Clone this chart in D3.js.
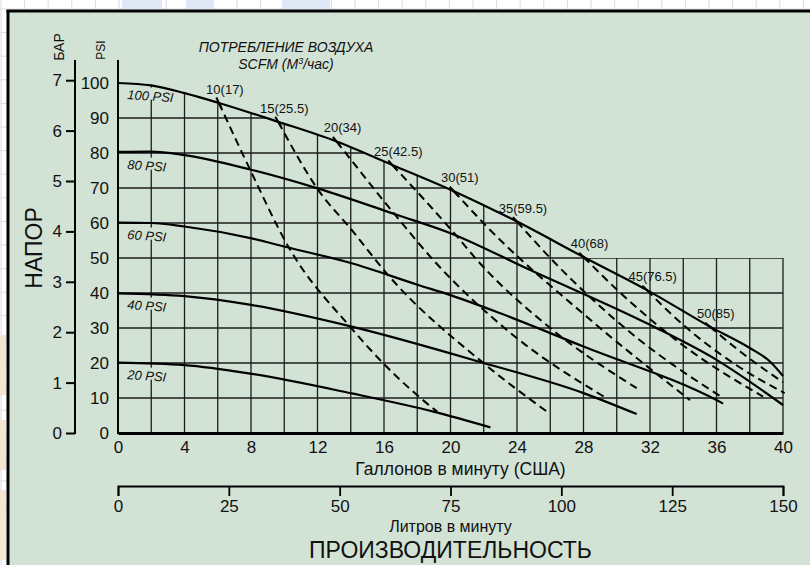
<!DOCTYPE html>
<html lang="ru">
<head>
<meta charset="UTF-8">
<title>Производительность насоса</title>
<script src="https://cdn.jsdelivr.net/npm/d3@7"></script>
<style type="text/css">
	body { margin: 0; background: #fff; }
	svg { display: block; font-family: "Liberation Sans", Arial, sans-serif; }
	.bg-grid line { stroke: #dcdcdc; stroke-width: 1px; }
	.grid line { stroke: #1c1c1c; stroke-width: 1.3px; }
	.psi-curve { fill: none; stroke: #000; stroke-width: 2.2px; }
	.air-curve { fill: none; stroke: #000; stroke-width: 2px; stroke-dasharray: 8 5; }
	.marker { stroke: #000; stroke-width: 2px; }
	.axis text { fill: #111; font-size: 17px; }
	.axis path, .axis line { stroke: #000; fill: none; }
	.air-label { font-size: 13px; fill: #111; }
	.psi-label { font-size: 13px; font-style: italic; fill: #111; }
	.title { font-size: 14px; font-style: italic; fill: #111; }
</style>
</head>
<body>
<script type="text/javascript">

// values
var gpmTicks = [0, 4, 8, 12, 16, 20, 24, 28, 32, 36, 40];
var lpmTicks = [0, 25, 50, 75, 100, 125, 150];
var psiTicks = [0, 10, 20, 30, 40, 50, 60, 70, 80, 90, 100];
var barTicks = [0, 1, 2, 3, 4, 5, 6, 7];
var psiPerBar = 14.4;

// pressure curves [gpm, psi]
var psi100 = [[0,100],[2,99.3],[4,97.1],[6.07,94.3],[9.64,88.9],[13.15,83.3],[16.5,76.6],[20.2,69.1],[24,60.4],[28,50.3],[31.8,40.9],[35.6,30.4],[38,24.3],[39.2,20.5],[40,16.3]];
var psi80 = [[0,80.3],[2,80.4],[4,79.4],[7.94,75.3],[12,69.9],[16.8,62.3],[20,57.1],[24.6,47],[32,30.9],[36,20.9],[40,8]];
var psi60 = [[0,60.1],[2,60],[4,59],[8.04,55.6],[10.05,53.2],[14.06,48.5],[18.06,42.3],[20,39.4],[23,34.2],[28,24.7],[36,9.4],[36.4,8.4]];
var psi40 = [[0,39.9],[4,39.1],[8,36.6],[14.06,30.4],[22,20],[28,11.4],[31.2,5.4]];
var psi20 = [[0,20.1],[4,19.4],[8.04,16.9],[14.06,11.3],[18.97,6.1],[22.4,1.6]];
var psiNames = ['100 PSI', '80 PSI', '60 PSI', '40 PSI', '20 PSI'];
var psiStart = [100, 80, 60, 40, 20];

// air consumption, SCFM (m3/h)
var airNames = ['10(17)', '15(25.5)', '20(34)', '25(42.5)', '30(51)', '35(59.5)', '40(68)', '45(76.5)', '50(85)'];
var air10 = [[6.07,94.3],[7.94,75.3],[10.3,52.8],[13.95,30.4],[15.96,19.9],[17.97,10.9],[19.2,6.1]];
var air15 = [[9.64,88.9],[12.05,69.4],[14.06,58],[16.16,45.6],[22,19.9],[25.8,6.1]];
var air20 = [[13.15,83.3],[16.76,61.8],[18.97,49.4],[23.5,29],[29.4,9.9]];
var air25 = [[16.5,76.6],[20.4,56.1],[21.6,49.4],[26,30],[31.2,12.8]];
var air30 = [[20.2,69.1],[22.2,58.9],[28,34],[34.4,9.4]];
var air35 = [[24,60.4],[26,50],[31,28],[36.4,10]];
var air40 = [[28,50.3],[30,41],[34,25],[38.8,10.4]];
var air45 = [[31.8,40.9],[33.5,33],[37,20],[40.1,11.4]];
var air50 = [[35.6,30.4],[37.5,23],[40,14.5]];

var W = 810, H = 565;
var panelFill = '#d2e3d6';

var x = d3.scaleLinear().domain([0, 40]).range([118, 783]);
var lpm = d3.scaleLinear().domain([0, 150]).range(x.range());
var y = d3.scaleLinear().domain([0, 100]).range([433, 83]);
var bar = d3.scaleLinear().domain([0, 7]).range([y(0), y(7 * psiPerBar)]);

var svg = d3.select('body').append('svg').attr('width', W).attr('height', H);

// page background with faint grid and watermark bits
svg.append('rect').attr('width', W).attr('height', H).attr('fill', '#fff');
var bg = svg.append('g').attr('class', 'bg-grid');
bg.selectAll('.v').data(d3.range(1, W, 23.6)).enter().append('line')
	.attr('x1', d => d).attr('x2', d => d).attr('y1', 0).attr('y2', H);
bg.selectAll('.h').data(d3.range(9, H, 23.6)).enter().append('line')
	.attr('y1', d => d).attr('y2', d => d).attr('x1', 0).attr('x2', W);
[[122, 40], [186, 28], [282, 48]].forEach(function (b) {
	svg.append('rect').attr('x', b[0]).attr('y', 0).attr('width', b[1]).attr('height', 11).attr('fill', '#dfe9f5');
});
[[335, 60], [420, 50], [490, 70]].forEach(function (b) {
	svg.append('rect').attr('x', 0).attr('y', b[0]).attr('width', 6).attr('height', b[1]).attr('fill', '#f4e4d2');
});

// green panel
svg.append('rect').attr('x', 8).attr('y', 11).attr('width', W).attr('height', H).attr('fill', panelFill);
svg.append('line').attr('x1', 6.5).attr('x2', W).attr('y1', 11).attr('y2', 11).attr('stroke', '#000').attr('stroke-width', 3);
svg.append('line').attr('x1', 8).attr('x2', 8).attr('y1', 10).attr('y2', H).attr('stroke', '#000').attr('stroke-width', 3);

var curve = d3.curveMonotoneX;
var line = d3.line().x(d => x(d[0])).y(d => y(d[1])).curve(curve);

// grid is drawn only under the 100 PSI curve plus the lower box
var clip = svg.append('clipPath').attr('id', 'gridclip');
clip.append('path').attr('d', d3.area().x(d => x(d[0])).y0(y(0)).y1(d => y(d[1])).curve(curve)(psi100));
clip.append('rect').attr('x', x(0)).attr('y', y(50)).attr('width', x(40) - x(0) + 1).attr('height', y(0) - y(50));

var grid = svg.append('g').attr('class', 'grid').attr('clip-path', 'url(#gridclip)');
grid.selectAll('.gv').data(d3.range(2, 41, 2)).enter().append('line')
	.attr('x1', d => x(d)).attr('x2', d => x(d)).attr('y1', y(0)).attr('y2', y(100));
grid.selectAll('.gh').data(d3.range(10, 100, 10)).enter().append('line')
	.attr('y1', d => y(d)).attr('y2', d => y(d)).attr('x1', x(0)).attr('x2', x(40));

// curve labels with knock-out background
var psiSeries = [psi100, psi80, psi60, psi40, psi20];
psiNames.forEach(function (name, i) {
	var g = svg.append('g').attr('transform', 'translate(' + (x(0) + 9) + ',' + (y(psiStart[i]) + 16) + ') rotate(4)');
	var t = g.append('text').attr('class', 'psi-label').text(name);
	var bb = t.node().getBBox();
	g.insert('rect', 'text').attr('x', bb.x - 1).attr('y', bb.y - 1).attr('width', bb.width + 2).attr('height', bb.height - 3).attr('fill', panelFill);
});

// pressure curves
svg.selectAll('.psi-curve').data(psiSeries).enter().append('path')
	.attr('class', 'psi-curve').attr('d', line);

// air consumption curves
var airSeries = [air10, air15, air20, air25, air30, air35, air40, air45, air50];
svg.selectAll('.air-curve').data(airSeries).enter().append('path')
	.attr('class', 'air-curve').attr('d', line);

airSeries.forEach(function (s, i) {
	var px = x(s[0][0]), py = y(s[0][1]);
	var dx = x(s[1][0]) - px, dy = y(s[1][1]) - py;
	var len = Math.sqrt(dx * dx + dy * dy);
	dx /= len; dy /= len;
	svg.append('line').attr('class', 'marker')
		.attr('x1', px - dx * 6).attr('y1', py - dy * 6)
		.attr('x2', px + dx * 6).attr('y2', py + dy * 6);
	svg.append('text').attr('class', 'air-label')
		.attr('x', px + 6).attr('y', py - 9)
		.attr('text-anchor', 'middle')
		.text(airNames[i]);
});

// PSI axis
var psiAxis = svg.append('g').attr('class', 'axis')
	.attr('transform', 'translate(' + x(0) + ',0)')
	.call(d3.axisLeft(y).tickValues(psiTicks).tickSize(0).tickPadding(9));
psiAxis.select('.domain').remove();
svg.append('line').attr('x1', x(0)).attr('x2', x(0)).attr('y1', y(0) + 1).attr('y2', y(100) - 23)
	.attr('stroke', '#000').attr('stroke-width', 2);

// BAR axis
var barAxis = svg.append('g').attr('class', 'axis')
	.attr('transform', 'translate(75,0)')
	.call(d3.axisLeft(bar).tickValues(barTicks).tickFormat(d3.format('d')).tickSize(9).tickPadding(4));
barAxis.select('.domain').remove();
barAxis.selectAll('line').attr('stroke-width', 2);
svg.append('line').attr('x1', 75).attr('x2', 75).attr('y1', y(0) + 1).attr('y2', y(100) - 23)
	.attr('stroke', '#000').attr('stroke-width', 2);

// gallons axis
var gAxis = svg.append('g').attr('class', 'axis')
	.attr('transform', 'translate(0,' + y(0) + ')')
	.call(d3.axisBottom(x).tickValues(gpmTicks).tickSize(0).tickPadding(8));
gAxis.select('.domain').attr('stroke-width', 3);

// litres axis
var lAxis = svg.append('g').attr('class', 'axis')
	.attr('transform', 'translate(0,486)')
	.call(d3.axisBottom(lpm).tickValues(lpmTicks).tickSize(10).tickPadding(4));
lAxis.selectAll('path, line').attr('stroke-width', 1.8);

// titles
var cx = (x(0) + x(40)) / 2;
svg.append('text').attr('x', cx + 10).attr('y', 475).attr('text-anchor', 'middle')
	.style('font-size', '17.5px').attr('fill', '#111').text('Галлонов в минуту (США)');
svg.append('text').attr('x', cx).attr('y', 532).attr('text-anchor', 'middle')
	.style('font-size', '16px').attr('fill', '#111').text('Литров в минуту');
svg.append('text').attr('x', cx).attr('y', 558).attr('text-anchor', 'middle')
	.style('font-size', '23px').attr('fill', '#111').text('ПРОИЗВОДИТЕЛЬНОСТЬ');

svg.append('text').attr('class', 'title').attr('x', 286).attr('y', 52).attr('text-anchor', 'middle')
	.text('ПОТРЕБЛЕНИЕ ВОЗДУХА');
var sub = svg.append('text').attr('class', 'title').attr('x', 286).attr('y', 69).attr('text-anchor', 'middle');
sub.append('tspan').text('SCFM (M');
sub.append('tspan').attr('dy', -5).style('font-size', '9px').text('3');
sub.append('tspan').attr('dy', 5).text('/час)');

svg.append('text').attr('transform', 'translate(64,47) rotate(-90)').attr('text-anchor', 'middle')
	.style('font-size', '14px').attr('fill', '#111').text('БАР');
svg.append('text').attr('transform', 'translate(105,50) rotate(-90)').attr('text-anchor', 'middle')
	.style('font-size', '12px').attr('fill', '#111').text('PSI');
svg.append('text').attr('transform', 'translate(42,248) rotate(-90)').attr('text-anchor', 'middle')
	.style('font-size', '23px').attr('fill', '#111').text('НАПОР');

</script>
</body>
</html>
